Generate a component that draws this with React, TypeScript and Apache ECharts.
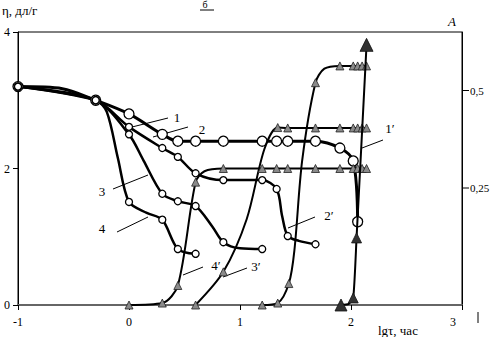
import React, { useEffect, useRef } from "react";
import * as echarts from "echarts";

const FONT = '"Liberation Serif", "DejaVu Serif", serif';

// axis ticks
const xTickLabels = ["-1", "0", "1", "2", "3"];
const etaTickLabels = ["0", "2", "4"];
const aTickValues = [0.25, 0.5];
const aTickLabels = ["0,25", "0,5"];

// η curves: [lgτ, η]
const curve1 = [[-1, 3.2], [-0.6, 3.17], [-0.3, 3.0], [0, 2.8], [0.3, 2.5], [0.44, 2.4], [0.6, 2.4], [0.85, 2.4], [1.2, 2.4], [1.33, 2.4], [1.43, 2.4], [1.68, 2.4], [1.9, 2.3], [2.02, 2.11], [2.06, 1.22]];
const curve1Plain = [1];
const curve2 = [[-1, 3.2], [-0.3, 3.0], [0, 2.61], [0.3, 2.3], [0.44, 2.17], [0.6, 1.93], [0.85, 1.83], [1.2, 1.83], [1.33, 1.7], [1.38, 1.3], [1.43, 1.01], [1.53, 0.94], [1.68, 0.89]];
const curve2Plain = [9, 11];
const curve3 = [[-1, 3.2], [-0.3, 3.0], [0, 2.5], [0.13, 2.12], [0.3, 1.63], [0.44, 1.52], [0.6, 1.45], [0.75, 1.15], [0.85, 0.92], [1.0, 0.83], [1.2, 0.82]];
const curve3Plain = [3, 7, 9];
const curve4 = [[-1, 3.2], [-0.3, 3.0], [-0.2, 2.83], [-0.1, 2.15], [0, 1.51], [0.16, 1.35], [0.3, 1.25], [0.44, 0.82], [0.6, 0.75]];
const curve4Plain = [2, 3, 5];

// A curves: [lgτ, A]
const curve1p = [[1.91, -0.05], [1.98, -0.047], [2.02, -0.032], [2.05, 0.122], [2.14, 0.617]];
const curve1pPlain = [1];
const curve2p = [[1.2, -0.05], [1.34, -0.045], [1.44, 0.005], [1.49, 0.09], [1.56, 0.32], [1.68, 0.52], [1.76, 0.556], [1.9, 0.563], [2.02, 0.563], [2.06, 0.563], [2.1, 0.563], [2.14, 0.563]];
const curve2pPlain = [3, 4, 6];
const curve3p = [[0.6, -0.05], [0.85, 0.035], [1.06, 0.17], [1.22, 0.35], [1.34, 0.405], [1.43, 0.404], [1.68, 0.404], [1.9, 0.404], [2.02, 0.404], [2.06, 0.404], [2.1, 0.404], [2.14, 0.404]];
const curve3pPlain = [2, 3];
const curve4p = [[0, -0.05], [0.3, -0.045], [0.44, 0.0], [0.6, 0.265], [0.68, 0.293], [0.85, 0.3], [1.2, 0.3], [1.33, 0.3], [1.43, 0.3], [1.68, 0.3], [1.9, 0.3], [2.02, 0.3], [2.06, 0.3], [2.1, 0.3], [2.14, 0.3]];
const curve4pPlain = [4];

// curve labels with leader lines (pixel layout)
const noteTexts = ["1", "2", "3", "4", "4′", "3′", "2′", "1′"];
const notePos = [
  { t: [177, 117], l: [132, 127, 168, 118] },
  { t: [202, 129], l: [153, 137, 188, 127] },
  { t: [102, 191], l: [113, 189, 148, 175] },
  { t: [102, 228], l: [117, 232, 148, 217] },
  { t: [216, 265], l: [183, 275, 203, 267] },
  { t: [256, 266], l: [223, 277, 247, 268] },
  { t: [329, 215], l: [288, 228, 315, 217] },
  { t: [390, 128], l: [362, 148, 383, 140] },
];

export default function App() {
  const ref = useRef<HTMLDivElement>(null);
  useEffect(() => {
    if (!ref.current) return;
    const chart = echarts.init(ref.current, null, { renderer: "svg" });

    const mk = (pts: number[][], plain: number[]) =>
      pts.map((p, i) => (plain.includes(i) ? { value: p, symbol: "none" } : { value: p }));

    const etaSeries = (name: string, pts: number[][], plain: number[], size: number, width: number) => ({
      name,
      type: "line",
      xAxisIndex: 0,
      yAxisIndex: 0,
      data: mk(pts, plain),
      smooth: 0.3,
      symbol: "circle",
      symbolSize: size,
      lineStyle: { color: "#000", width },
      itemStyle: { color: "#fff", borderColor: "#000", borderWidth: 1.3 },
      silent: true,
      z: 2,
    });

    const aSeries = (name: string, pts: number[][], plain: number[]) => ({
      name,
      type: "line",
      xAxisIndex: 0,
      yAxisIndex: 1,
      data: mk(pts, plain),
      smooth: 0.3,
      symbol: "triangle",
      symbolSize: 8,
      lineStyle: { color: "#000", width: 2 },
      itemStyle: { color: "#8a8a8a", borderColor: "#222", borderWidth: 0.8 },
      silent: true,
      z: 3,
    });

    const oneSizes = [12, 0, 10, 10, 13];
    const series1p = {
      name: "1′",
      type: "line",
      xAxisIndex: 0,
      yAxisIndex: 1,
      data: curve1p.map((p, i) =>
        curve1pPlain.includes(i) ? { value: p, symbol: "none" } : { value: p, symbolSize: oneSizes[i] }
      ),
      smooth: 0.2,
      symbol: "triangle",
      lineStyle: { color: "#000", width: 2 },
      itemStyle: { color: "#333", borderColor: "#111", borderWidth: 0.8 },
      silent: true,
      z: 4,
    };

    const graphic: any[] = [];
    notePos.forEach((n, i) => {
      graphic.push({
        type: "line",
        shape: { x1: n.l[0], y1: n.l[1], x2: n.l[2], y2: n.l[3] },
        style: { stroke: "#000", lineWidth: 1 },
        silent: true,
      });
      graphic.push({
        type: "text",
        x: n.t[0],
        y: n.t[1],
        style: { text: noteTexts[i], fontFamily: FONT, fontSize: 13, fill: "#000", align: "center", verticalAlign: "middle" },
        silent: true,
      });
    });
    graphic.push(
      { type: "text", x: 2, y: 10, style: { text: "η, дл/г", fontFamily: FONT, fontSize: 13, fill: "#000", align: "left", verticalAlign: "middle" } },
      { type: "text", x: 452, y: 21, style: { text: "A", fontFamily: FONT, fontSize: 13, fontStyle: "italic", fill: "#000", align: "center", verticalAlign: "middle" } },
      { type: "text", x: 378, y: 330, style: { text: "lgτ, час", fontFamily: FONT, fontSize: 13, fill: "#000", align: "left", verticalAlign: "middle" } },
      { type: "text", x: 205, y: 4, style: { text: "б", fontFamily: FONT, fontSize: 10, fill: "#000", align: "center", verticalAlign: "middle" } },
      { type: "line", shape: { x1: 200, y1: 10, x2: 214, y2: 10 }, style: { stroke: "#000", lineWidth: 1 } },
      { type: "line", shape: { x1: 478, y1: 312, x2: 478, y2: 323 }, style: { stroke: "#000", lineWidth: 1 } }
    );

    chart.setOption({
      animation: false,
      backgroundColor: "#fff",
      grid: {
        left: 18,
        top: 32,
        right: 31,
        bottom: 32,
        show: true,
        borderColor: "#000",
        borderWidth: 1,
        backgroundColor: "transparent",
        outerBoundsMode: "none",
      },
      xAxis: {
        type: "value",
        min: -1,
        max: 3,
        interval: 1,
        axisLine: { show: true, onZero: false, lineStyle: { color: "#666", width: 2 } },
        axisTick: { show: true, length: 5, lineStyle: { color: "#000", width: 1 } },
        splitLine: { show: false },
        axisLabel: {
          margin: 11,
          fontFamily: FONT,
          fontSize: 12,
          color: "#000",
          formatter: (v: number) => {
            const i = Math.round(v) + 1;
            return i === 4 ? "{r|" + xTickLabels[i] + "}" : xTickLabels[i];
          },
          rich: { r: { fontFamily: FONT, fontSize: 12, color: "#000", padding: [0, 18, 0, 0] } },
        },
      },
      yAxis: [
        {
          type: "value",
          min: 0,
          max: 4,
          interval: 2,
          axisLine: { show: true, onZero: false, lineStyle: { color: "#000", width: 1 } },
          axisTick: { show: true, length: 5, lineStyle: { color: "#000" } },
          splitLine: { show: false },
          axisLabel: {
            margin: 8,
            fontFamily: FONT,
            fontSize: 12,
            color: "#000",
            formatter: (v: number) => etaTickLabels[Math.round(v / 2)],
          },
        },
        {
          type: "value",
          position: "right",
          min: -0.05,
          max: 0.65,
          interval: 0.05,
          axisLine: { show: true, onZero: false, lineStyle: { color: "#000", width: 1 } },
          axisTick: { show: false },
          splitLine: { show: false },
          axisLabel: {
            margin: 8,
            fontFamily: FONT,
            fontSize: 11,
            color: "#000",
            formatter: (v: number) => {
              for (let i = 0; i < aTickValues.length; i++) {
                if (Math.abs(v - aTickValues[i]) < 1e-6) return aTickLabels[i];
              }
              return "";
            },
          },
        },
      ],
      series: [
        etaSeries("1", curve1, curve1Plain, 10, 3),
        etaSeries("2", curve2, curve2Plain, 7, 2.5),
        etaSeries("3", curve3, curve3Plain, 7, 2.5),
        etaSeries("4", curve4, curve4Plain, 7, 2.5),
        aSeries("4′", curve4p, curve4pPlain),
        aSeries("3′", curve3p, curve3pPlain),
        aSeries("2′", curve2p, curve2pPlain),
        series1p,
      ],
      graphic,
    });

    // right-axis tick marks placed through the axis scale
    const ax = chart.convertToPixel({ xAxisIndex: 0 }, 3) as number;
    aTickValues.forEach((v) => {
      const y = chart.convertToPixel({ yAxisIndex: 1 }, v) as number;
      graphic.push({
        type: "line",
        shape: { x1: ax, y1: y, x2: ax + 7, y2: y },
        style: { stroke: "#000", lineWidth: 1 },
        silent: true,
      });
    });
    chart.setOption({ graphic });

    return () => chart.dispose();
  }, []);
  return (
    <div
      ref={ref}
      style={{ position: "fixed", left: 0, top: 0, width: 493, height: 337, background: "#fff" }}
    />
  );
}
